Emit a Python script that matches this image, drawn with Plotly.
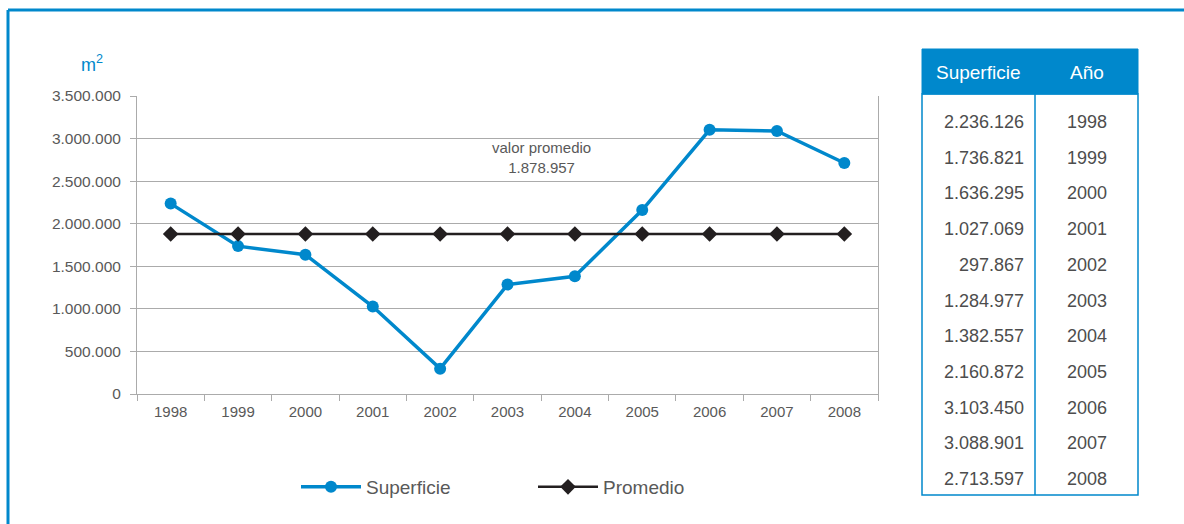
import plotly.graph_objects as go

W, H = 1184, 524

years = ["1998", "1999", "2000", "2001", "2002", "2003", "2004", "2005", "2006", "2007", "2008"]
superficie = [2236126, 1736821, 1636295, 1027069, 297867, 1284977, 1382557, 2160872, 3103450, 3088901, 2713597]
superficie_txt = ["2.236.126", "1.736.821", "1.636.295", "1.027.069", "297.867", "1.284.977",
                  "1.382.557", "2.160.872", "3.103.450", "3.088.901", "2.713.597"]
promedio_val = 1878957
promedio_txt = "1.878.957"
promedio = [promedio_val] * len(years)
y_ticks = [0, 500000, 1000000, 1500000, 2000000, 2500000, 3000000, 3500000]

BLUE = "#0088CC"
GRAY_TXT = "#595959"
GRID = "#ABABAB"
FONT = "Liberation Sans, Arial, sans-serif"


def px(x):
    return x / W


def py(y):
    return 1 - y / H


fig = go.Figure()
fig.add_trace(go.Scatter(
    x=years, y=superficie, name="Superficie", mode="lines+markers",
    line=dict(color=BLUE, width=3.5),
    marker=dict(color=BLUE, size=12, symbol="circle"),
))
fig.add_trace(go.Scatter(
    x=years, y=promedio, name="Promedio", mode="lines+markers",
    line=dict(color="#231F20", width=2.5),
    marker=dict(color="#231F20", size=12, symbol="diamond"),
))

shapes = []
annotations = []

# outer frame (top and left)
shapes.append(dict(type="line", xref="paper", yref="paper", x0=px(8), x1=px(1200), y0=py(10), y1=py(10),
                   line=dict(color=BLUE, width=3)))
shapes.append(dict(type="line", xref="paper", yref="paper", x0=px(8), x1=px(8), y0=py(10), y1=py(540),
                   line=dict(color=BLUE, width=3)))

# table
tx0, tx1, tdiv = 922, 1138, 1035
ty0, thead, ty1 = 49, 94, 495
shapes.append(dict(type="rect", xref="paper", yref="paper", x0=px(tx0), x1=px(tx1), y0=py(ty0), y1=py(thead),
                   fillcolor=BLUE, line=dict(color=BLUE, width=1)))
shapes.append(dict(type="rect", xref="paper", yref="paper", x0=px(tx0), x1=px(tx1), y0=py(thead), y1=py(ty1),
                   fillcolor="rgba(0,0,0,0)", line=dict(color=BLUE, width=1.5)))
shapes.append(dict(type="line", xref="paper", yref="paper", x0=px(tdiv), x1=px(tdiv), y0=py(thead), y1=py(ty1),
                   line=dict(color=BLUE, width=1.5)))

annotations.append(dict(xref="paper", yref="paper", x=px(978), y=py(72), text="Superficie", showarrow=False,
                        font=dict(color="white", size=19, family=FONT), xanchor="center", yanchor="middle"))
annotations.append(dict(xref="paper", yref="paper", x=px(1087), y=py(72), text="Año", showarrow=False,
                        font=dict(color="white", size=19, family=FONT), xanchor="center", yanchor="middle"))

row_first, row_last = 122, 479
step = (row_last - row_first) / (len(years) - 1)
for i, (v, yr) in enumerate(zip(superficie_txt, years)):
    yy = row_first + i * step
    annotations.append(dict(xref="paper", yref="paper", x=px(1026), y=py(yy), text=v, showarrow=False,
                            font=dict(color="#4D4D4D", size=18, family=FONT), xanchor="right", yanchor="middle"))
    annotations.append(dict(xref="paper", yref="paper", x=px(1087), y=py(yy), text=yr, showarrow=False,
                            font=dict(color="#4D4D4D", size=18, family=FONT), xanchor="center", yanchor="middle"))

# m2 unit label
annotations.append(dict(xref="paper", yref="paper", x=px(92), y=py(63), text="m<sup>2</sup>", showarrow=False,
                        font=dict(color=BLUE, size=18, family=FONT), xanchor="center", yanchor="middle"))

# average annotation
annotations.append(dict(xref="paper", yref="paper", x=px(541), y=py(157),
                        text="valor promedio<br>" + promedio_txt, showarrow=False,
                        font=dict(color=GRAY_TXT, size=15, family=FONT), xanchor="center", yanchor="middle"))

fig.update_layout(
    width=W, height=H,
    margin=dict(l=0, r=0, t=0, b=0, autoexpand=False),
    paper_bgcolor="white", plot_bgcolor="white",
    separators=",.",
    font=dict(family=FONT, color=GRAY_TXT, size=15),
    shapes=shapes, annotations=annotations,
    showlegend=True,
    legend=dict(orientation="h", x=px(296), y=py(487), xanchor="left", yanchor="middle",
                font=dict(size=19, color=GRAY_TXT, family=FONT),
                entrywidth=162, entrywidthmode="pixels", itemwidth=60),
    xaxis=dict(domain=[px(137), px(878)], type="category", tickson="boundaries", automargin=False,
               range=[-0.5, len(years) - 0.5], ticklabelstandoff=4,
               ticks="outside", ticklen=6, tickcolor=GRID, showline=True, linecolor=GRID, linewidth=1,
               showgrid=False, tickfont=dict(size=15, color=GRAY_TXT), fixedrange=True),
    yaxis=dict(domain=[py(394), py(96)], range=[0, 3500000], tickvals=y_ticks, tickformat=",d",
               automargin=False, ticklabelstandoff=6,
               ticks="outside", ticklen=6, tickcolor=GRID, showline=True, linecolor=GRID, linewidth=1,
               mirror=True, showgrid=True, gridcolor=GRID, gridwidth=1, zeroline=False,
               tickfont=dict(size=15.5, color=GRAY_TXT), fixedrange=True),
)

fig.write_html("out.html", config={"displayModeBar": False},
               post_script="document.body.style.margin='0';")
